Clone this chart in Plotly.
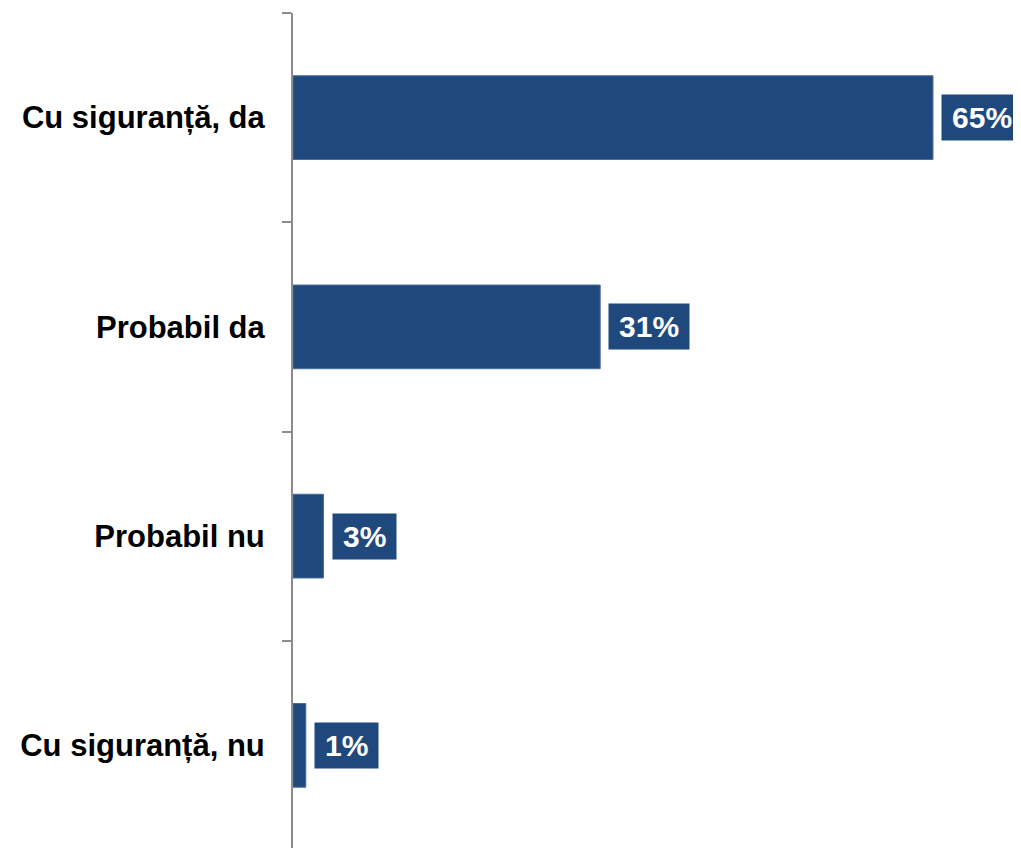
import plotly.graph_objects as go

categories = ["Cu siguranță, nu", "Probabil nu", "Probabil da", "Cu siguranță, da"]
values = [1.3, 3.1, 31.2, 65.0]
labels = ["1%", "3%", "31%", "65%"]

BAR = "#1F497D"

fig = go.Figure()
fig.add_trace(go.Bar(
    y=categories, x=values, orientation="h",
    marker=dict(color=BAR, line=dict(color="#4a6c9c", width=1)),
    hoverinfo="skip",
))

for c, v, t in zip(categories, values, labels):
    fig.add_annotation(
        x=v, y=c, xref="x", yref="y", text="<b>\u2009" + t + "\u2009</b>",
        showarrow=False, xanchor="left", yanchor="middle", xshift=8,
        bgcolor=BAR, borderpad=4, height=37, valign="middle",
        font=dict(family="Liberation Sans, Arial", size=30, color="white"),
    )

fig.update_layout(
    width=1040, height=842,
    margin=dict(l=285, r=27, t=5, b=0),
    paper_bgcolor="white", plot_bgcolor="white",
    bargap=0.6, showlegend=False,
)
fig.update_xaxes(range=[0, 73.94], showticklabels=False, showgrid=False,
                 zeroline=False, showline=False, ticks="")
fig.update_yaxes(
    showline=True, linecolor="#8c8c8c", linewidth=2,
    ticks="outside", ticklen=9, tickcolor="#8c8c8c", tickwidth=2,
    tickson="boundaries", showgrid=False, ticklabelstandoff=20,
    tickfont=dict(family="Liberation Sans, Arial", size=31, color="black", weight="bold"),
)

fig.write_html("out.html",
               post_script="document.documentElement.style.overflow='hidden';document.body.style.overflow='hidden';")
